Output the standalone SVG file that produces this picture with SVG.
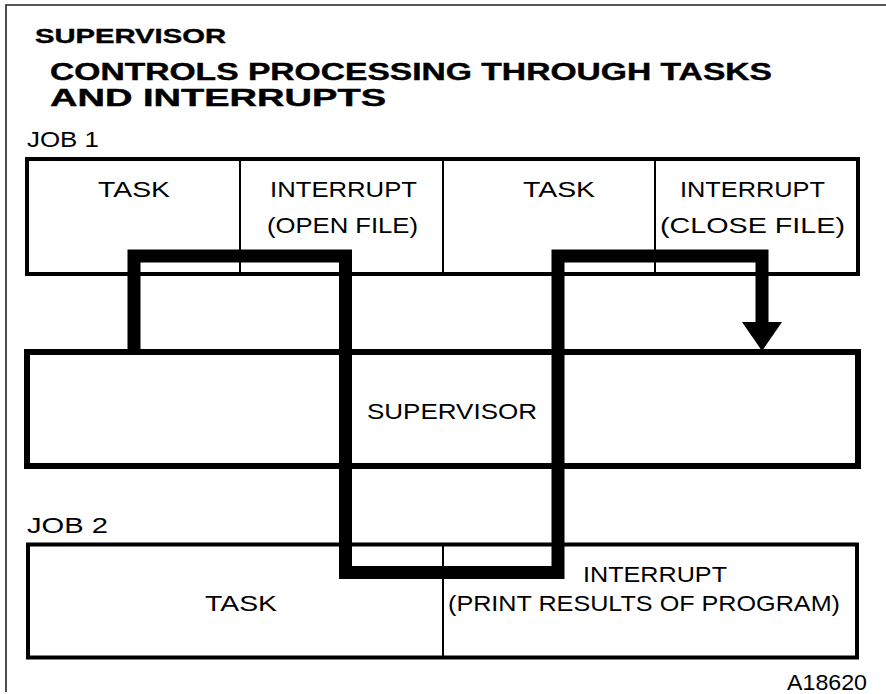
<svg xmlns="http://www.w3.org/2000/svg" width="886" height="694" viewBox="0 0 886 694">
<style>
.t{font-family:"Liberation Sans",Arial,sans-serif;font-size:22px;fill:#000}
.b{font-family:"Liberation Sans",Arial,sans-serif;font-weight:bold;fill:#000;stroke:#000;stroke-width:0.4}
.box{fill:none;stroke:#000;stroke-width:4}
.sup{fill:none;stroke:#000;stroke-width:6}
.div{stroke:#000;stroke-width:2}
.flow{fill:none;stroke:#000;stroke-width:13;stroke-linejoin:miter;stroke-linecap:butt}
</style>
<rect width="886" height="694" fill="#fff"/>
<path d="M6,692 V5 H886" fill="none" stroke="#222" stroke-width="1.6"/>
<g id="title">
<text class="b" x="35" y="43" font-size="21" textLength="191" lengthAdjust="spacingAndGlyphs">SUPERVISOR</text>
<text class="b" x="50" y="80" font-size="23" textLength="722" lengthAdjust="spacingAndGlyphs">CONTROLS PROCESSING THROUGH TASKS</text>
<text class="b" x="50" y="106" font-size="23" textLength="336" lengthAdjust="spacingAndGlyphs">AND INTERRUPTS</text>
</g>
<g id="job1">
<text class="t" x="27" y="147" textLength="72" lengthAdjust="spacingAndGlyphs">JOB 1</text>
<rect class="box" x="27" y="159" width="831" height="115"/>
<line class="div" x1="240" y1="159" x2="240" y2="274"/>
<line class="div" x1="443" y1="159" x2="443" y2="274"/>
<line class="div" x1="655" y1="159" x2="655" y2="274"/>
</g>
<g id="job1-task1"><text class="t" x="98" y="197" textLength="72" lengthAdjust="spacingAndGlyphs">TASK</text></g>
<g id="job1-int1">
<text class="t" x="270" y="197" textLength="147" lengthAdjust="spacingAndGlyphs">INTERRUPT</text>
<text class="t" x="267" y="233" textLength="151" lengthAdjust="spacingAndGlyphs">(OPEN FILE)</text>
</g>
<g id="job1-task2"><text class="t" x="523" y="197" textLength="72" lengthAdjust="spacingAndGlyphs">TASK</text></g>
<g id="job1-int2">
<text class="t" x="680" y="197" textLength="145" lengthAdjust="spacingAndGlyphs">INTERRUPT</text>
<text class="t" x="660" y="233" textLength="185" lengthAdjust="spacingAndGlyphs">(CLOSE FILE)</text>
</g>
<g id="supervisor">
<rect class="sup" x="27" y="352" width="831" height="114"/>
<text class="t" x="367" y="419" textLength="170" lengthAdjust="spacingAndGlyphs">SUPERVISOR</text>
</g>
<g id="job2">
<text class="t" x="27" y="533" textLength="81" lengthAdjust="spacingAndGlyphs">JOB 2</text>
<rect class="box" x="28" y="544.5" width="829" height="113"/>
<line class="div" x1="443" y1="544.5" x2="443" y2="657.5"/>
</g>
<g id="job2-task"><text class="t" x="205" y="611" textLength="72" lengthAdjust="spacingAndGlyphs">TASK</text></g>
<g id="job2-int">
<text class="t" x="583" y="582" textLength="144" lengthAdjust="spacingAndGlyphs">INTERRUPT</text>
<text class="t" x="448" y="611" textLength="392" lengthAdjust="spacingAndGlyphs">(PRINT RESULTS OF PROGRAM)</text>
</g>
<g id="connectors">
<path class="flow" d="M134,352 V256 H345.5 V572.5 H558 V256 H762 V324"/>
<polygon points="742,322 782,322 762,351" fill="#000"/>
</g>
<text class="t" x="787" y="690" font-size="20" textLength="80" lengthAdjust="spacingAndGlyphs">A18620</text>
</svg>
